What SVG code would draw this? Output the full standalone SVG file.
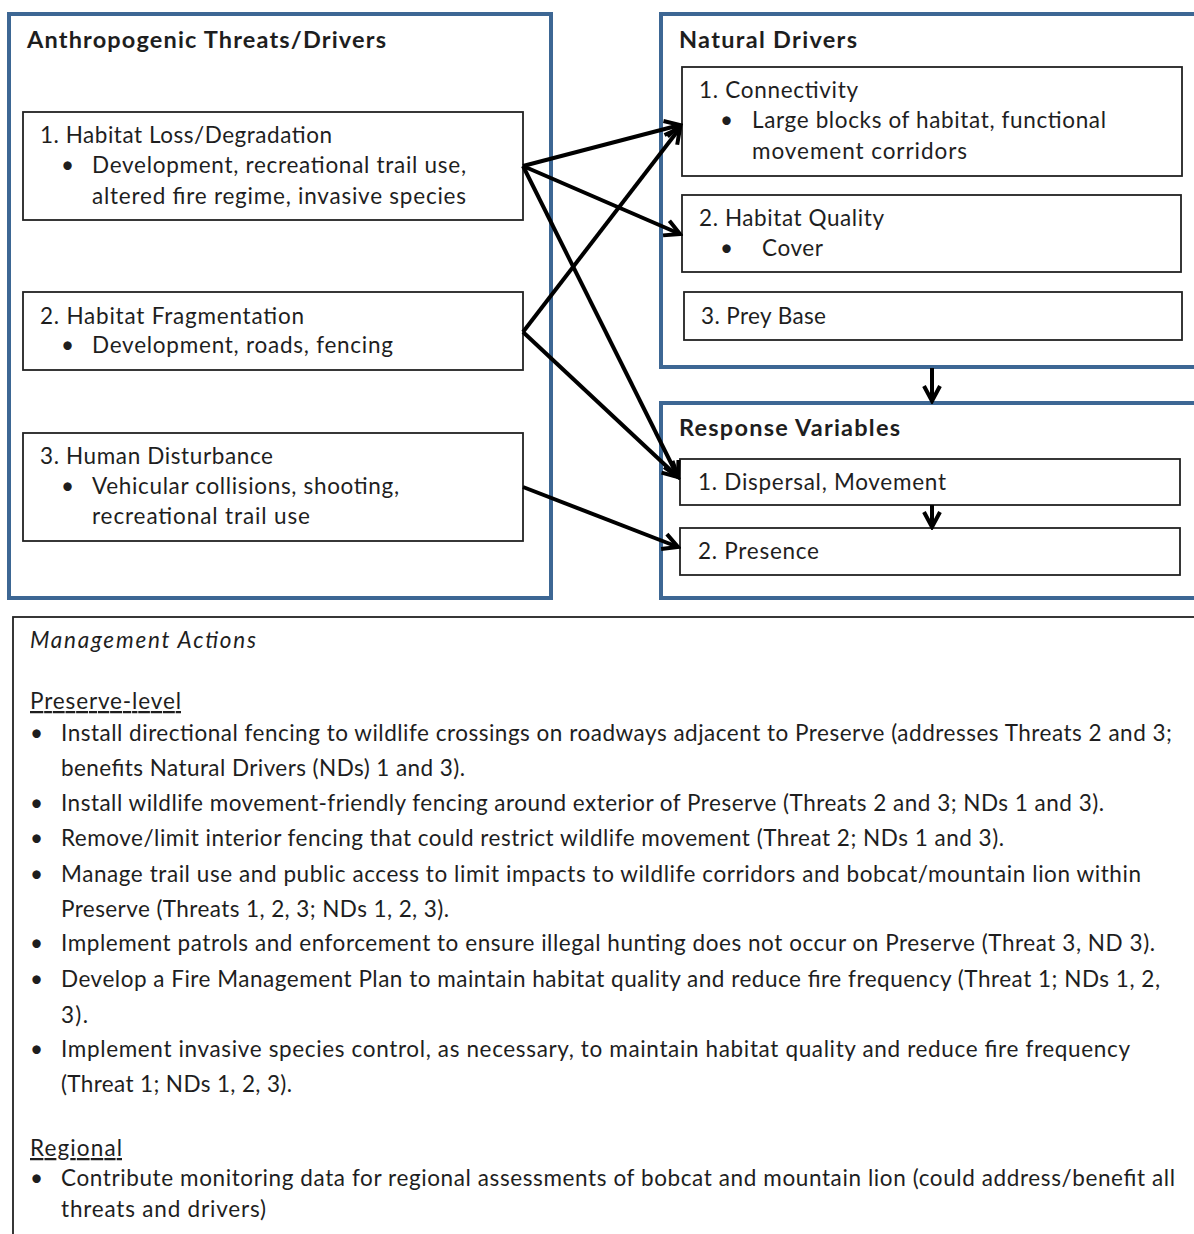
<svg xmlns="http://www.w3.org/2000/svg" width="1194" height="1234" viewBox="0 0 1194 1234">
<style>
.outer{fill:#fff;stroke:#3d6794;stroke-width:4}
.inner{fill:#fff;stroke:#222;stroke-width:1.8}
.t{font-family:Lato,"Open Sans",sans-serif;font-size:22.5px;fill:#1e1e1e}
.b{font-weight:bold;font-size:23.5px}
.i{font-style:italic}
.u{text-decoration:underline}
.c{fill:none;stroke:#000;stroke-width:4}
</style>
<defs>
<marker id="ah" markerUnits="userSpaceOnUse" markerWidth="22" markerHeight="22" viewBox="0 0 22 22" refX="19" refY="11" orient="auto">
<path d="M4,3 L19,11 L4,19" fill="none" stroke="#000" stroke-width="4"/>
</marker>
</defs>
<rect width="1194" height="1234" fill="#fff"/>

<g id="anthropogenic">
<rect class="outer" x="9" y="14" width="542" height="584"/>
<text class="t b" x="27" y="48" textLength="359">Anthropogenic Threats/Drivers</text>
</g>
<g id="threat1">
<rect class="inner" x="23" y="112" width="500" height="108"/>
<text class="t" x="40" y="143" textLength="292">1. Habitat Loss/Degradation</text>
<text class="t" x="61" y="173">•</text>
<text class="t" x="92" y="173" textLength="374">Development, recreational trail use,</text>
<text class="t" x="92" y="204" textLength="374">altered fire regime, invasive species</text>
</g>
<g id="threat2">
<rect class="inner" x="23" y="292" width="500" height="78"/>
<text class="t" x="40" y="324" textLength="264">2. Habitat Fragmentation</text>
<text class="t" x="61" y="353">•</text>
<text class="t" x="92" y="353" textLength="301">Development, roads, fencing</text>
</g>
<g id="threat3">
<rect class="inner" x="23" y="433" width="500" height="108"/>
<text class="t" x="40" y="464" textLength="233">3. Human Disturbance</text>
<text class="t" x="61" y="494">•</text>
<text class="t" x="92" y="494" textLength="307">Vehicular collisions, shooting,</text>
<text class="t" x="92" y="524" textLength="218">recreational trail use</text>
</g>

<g id="natural">
<rect class="outer" x="661" y="14" width="545" height="353"/>
<text class="t b" x="679" y="48" textLength="178">Natural Drivers</text>
</g>
<g id="nd1">
<rect class="inner" x="682" y="67" width="500" height="109"/>
<text class="t" x="699" y="98" textLength="159">1. Connectivity</text>
<text class="t" x="720" y="128">•</text>
<text class="t" x="752" y="128" textLength="354">Large blocks of habitat, functional</text>
<text class="t" x="752" y="159" textLength="215">movement corridors</text>
</g>
<g id="nd2">
<rect class="inner" x="682" y="195" width="499" height="77"/>
<text class="t" x="699" y="226" textLength="185">2. Habitat Quality</text>
<text class="t" x="720" y="256">•</text>
<text class="t" x="762" y="256" textLength="61">Cover</text>
</g>
<g id="nd3">
<rect class="inner" x="684" y="292" width="498" height="48"/>
<text class="t" x="701" y="324" textLength="125">3. Prey Base</text>
</g>

<g id="response">
<rect class="outer" x="661" y="403" width="545" height="195"/>
<text class="t b" x="679" y="436" textLength="221">Response Variables</text>
</g>
<g id="rv1">
<rect class="inner" x="680" y="459" width="500" height="46"/>
<text class="t" x="698" y="490" textLength="248">1. Dispersal, Movement</text>
</g>
<g id="rv2">
<rect class="inner" x="680" y="528" width="500" height="47"/>
<text class="t" x="698" y="559" textLength="121">2. Presence</text>
</g>

<g id="connectors">
<line class="c" x1="523" y1="166" x2="680" y2="125" marker-end="url(#ah)"/>
<line class="c" x1="523" y1="166" x2="680" y2="234" marker-end="url(#ah)"/>
<line class="c" x1="523" y1="166" x2="678" y2="477" marker-end="url(#ah)"/>
<line class="c" x1="523" y1="332" x2="680" y2="128" marker-end="url(#ah)"/>
<line class="c" x1="523" y1="332" x2="678" y2="477" marker-end="url(#ah)"/>
<line class="c" x1="523" y1="487" x2="678" y2="547" marker-end="url(#ah)"/>
<line class="c" x1="932" y1="368" x2="932" y2="401" marker-end="url(#ah)"/>
<line class="c" x1="932" y1="505" x2="932" y2="527" marker-end="url(#ah)"/>
</g>

<g id="management">
<rect x="13" y="617" width="1195" height="630" fill="#fff" stroke="#222" stroke-width="1.8"/>
<text class="t i" x="30" y="648" textLength="226">Management Actions</text>
<text class="t u" x="30" y="709" textLength="151">Preserve-level</text>
<text class="t" x="30" y="741">•</text>
<text class="t" x="61" y="741" textLength="1111">Install directional fencing to wildlife crossings on roadways adjacent to Preserve (addresses Threats 2 and 3;</text>
<text class="t" x="61" y="776" textLength="404">benefits Natural Drivers (NDs) 1 and 3).</text>
<text class="t" x="30" y="811">•</text>
<text class="t" x="61" y="811" textLength="1043">Install wildlife movement-friendly fencing around exterior of Preserve (Threats 2 and 3;  NDs 1 and 3).</text>
<text class="t" x="30" y="846">•</text>
<text class="t" x="61" y="846" textLength="943">Remove/limit interior fencing that could restrict wildlife movement (Threat 2; NDs 1 and 3).</text>
<text class="t" x="30" y="882">•</text>
<text class="t" x="61" y="882" textLength="1080">Manage trail use and public access to limit impacts to wildlife corridors and bobcat/mountain lion within</text>
<text class="t" x="61" y="917" textLength="388">Preserve (Threats 1, 2, 3; NDs 1, 2, 3).</text>
<text class="t" x="30" y="951">•</text>
<text class="t" x="61" y="951" textLength="1094">Implement patrols and enforcement to ensure illegal hunting does not occur on Preserve (Threat 3, ND 3).</text>
<text class="t" x="30" y="987">•</text>
<text class="t" x="61" y="987" textLength="1099">Develop a Fire Management Plan to maintain habitat quality and reduce fire frequency (Threat 1; NDs 1,  2,</text>
<text class="t" x="61" y="1023" textLength="27">3).</text>
<text class="t" x="30" y="1057">•</text>
<text class="t" x="61" y="1057" textLength="1069">Implement invasive species control, as necessary, to maintain habitat quality and reduce fire frequency</text>
<text class="t" x="61" y="1092" textLength="231">(Threat 1;  NDs 1,  2, 3).</text>
<text class="t u" x="30" y="1156" textLength="92">Regional</text>
<text class="t" x="30" y="1186">•</text>
<text class="t" x="61" y="1186" textLength="1114">Contribute monitoring data for regional assessments of bobcat and mountain lion (could address/benefit all</text>
<text class="t" x="61" y="1217" textLength="205">threats and drivers)</text>
</g>
</svg>
